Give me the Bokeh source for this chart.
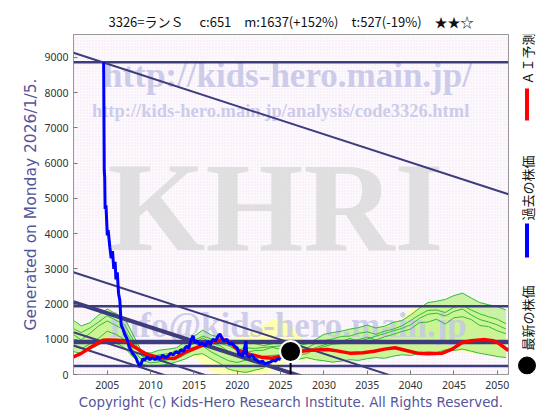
from math import pi
from bokeh.plotting import figure
from bokeh.models import Range1d, FixedTicker
from bokeh.layouts import row
from bokeh.embed import file_html
from bokeh.resources import INLINE
from bokeh.core.properties import value

# ---------------- data ----------------
title_text = "3326=ランＳ　 c:651　m:1637(+152%)　t:527(-19%)　★★☆"
y_label = "Generated on Monday 2026/1/5."
copyright_text = "Copyright (c) Kids-Hero Research Institute. All Rights Reserved."
legend_labels = ["ＡＩ予測", "過去の株価", "最新の株価"]

x_ticks = [2005, 2010, 2015, 2020, 2025, 2030, 2035, 2040, 2045, 2050]
y_ticks = [0, 1000, 2000, 3000, 4000, 5000, 6000, 7000, 8000, 9000]

# past price (blue)
blue_years = [2004.58, 2004.62, 2004.65, 2004.70, 2004.75, 2004.85, 2005.00, 2005.10, 2005.30, 2005.45,
              2005.60, 2005.75, 2005.90, 2006.00, 2006.15, 2006.30, 2006.45, 2006.60, 2006.80, 2007.00,
              2007.30, 2007.50, 2007.70, 2007.90, 2008.10, 2008.30, 2008.50, 2008.70, 2008.90, 2009.10,
              2009.30, 2009.60, 2009.90, 2010.20, 2010.50, 2010.80, 2011.10, 2011.40, 2011.70, 2012.00,
              2012.30, 2012.60, 2012.90, 2013.20, 2013.50, 2013.80, 2014.10, 2014.40, 2014.70, 2014.90,
              2015.10, 2015.40, 2015.70, 2016.00, 2016.30, 2016.60, 2016.90, 2017.20, 2017.50, 2017.80,
              2018.00, 2018.20, 2018.50, 2018.80, 2019.10, 2019.40, 2019.70, 2020.00, 2020.20, 2020.40,
              2020.60, 2020.80, 2021.00, 2021.10, 2021.40, 2021.70, 2022.00, 2022.30, 2022.60, 2022.90,
              2023.20, 2023.50, 2023.80, 2024.10, 2024.40, 2024.70, 2025.00]
blue_values = [8860, 7000, 5800, 5600, 4700, 4800, 3950, 4100, 3600, 3300,
               3500, 3000, 3200, 2700, 2900, 2300, 2100, 1400, 1300, 1150,
               1000, 800, 700, 600, 550, 480, 350, 250, 300, 450,
               400, 500, 420, 480, 420, 500, 450, 550, 480, 520,
               600, 550, 650, 600, 700, 650, 800, 750, 1000, 1100,
               900, 950, 850, 900, 800, 950, 850, 1000, 950, 1100,
               1150, 1050, 950, 1000, 850, 900, 800, 750, 550, 600,
               500, 700, 950, 550, 500, 550, 450, 400, 350, 380,
               300, 330, 350, 400, 380, 450, 420]

# AI prediction (red)
red_years = [2001.1, 2002.0, 2003.0, 2004.0, 2004.5, 2005.0, 2006.0, 2007.0, 2007.5, 2008.0,
             2009.0, 2009.6, 2011.2, 2012.7, 2014.2, 2016.2, 2017.7, 2018.5, 2019.0, 2020.0,
             2021.0, 2022.0, 2023.0, 2024.0, 2025.0, 2026.0, 2027.3, 2028.5, 2030.4, 2031.5,
             2033.1, 2034.5, 2035.8, 2037.0, 2038.2, 2039.5, 2040.9, 2042.0, 2043.6, 2044.8,
             2045.9, 2047.0, 2048.6, 2049.5, 2050.1, 2051.3]
red_values = [500, 600, 760, 900, 970, 980, 970, 960, 900, 800,
              650, 570, 470, 455, 660, 850, 970, 980, 940, 710,
              600, 540, 480, 460, 520, 600, 660, 690, 710, 670,
              600, 620, 660, 720, 760, 680, 600, 590, 600, 720,
              900, 960, 990, 960, 900, 680]

latest_year = 2026.15
latest_price = 651

# simulated paths (green) and band (yellow), yearly
sim_years = list(range(2001, 2052))
sim1 = [1550, 1380, 1470, 1690, 1860, 1720, 1600, 1120, 640, 610, 690, 720, 760, 930, 1080, 1260, 1120,
        1050, 920, 870, 930, 880, 820, 870, 950, 830, 820, 870, 990, 1140, 1190, 1230, 1290, 1330, 1400,
        1320, 1370, 1480, 1530, 1690, 1880, 2040, 2080, 2130, 2240, 2310, 2170, 2040, 1980, 1930, 1830]
sim2 = [1150, 980, 1170, 1380, 1520, 1390, 1260, 880, 520, 430, 520, 540, 630, 760, 880, 1040, 890,
        820, 650, 560, 620, 680, 690, 770, 720, 640, 710, 740, 880, 960, 1010, 1080, 1090, 1170, 1210,
        1140, 1230, 1290, 1380, 1530, 1690, 1820, 1830, 1760, 1910, 1960, 1830, 1720, 1640, 1570, 1440]
sim3 = [820, 730, 870, 1030, 1230, 1140, 990, 690, 410, 330, 360, 420, 440, 570, 690, 810, 640,
        510, 390, 340, 410, 440, 520, 540, 560, 490, 560, 590, 720, 790, 860, 880, 960, 990, 1060,
        980, 1070, 1140, 1220, 1290, 1470, 1490, 1570, 1430, 1610, 1640, 1560, 1390, 1360, 1240, 1160]
sim4 = [660, 590, 720, 840, 960, 890, 760, 490, 290, 240, 260, 290, 360, 440, 560, 590, 440,
        310, 150, 90, 60, 120, 180, 390, 460, 390, 430, 480, 420, 390, 350, 380, 420, 400, 450,
        480, 460, 520, 560, 540, 600, 650, 620, 700, 680, 720, 660, 600, 560, 510, 480]
sim5 = [1310, 1190, 1320, 1490, 1670, 1540, 1410, 980, 560, 490, 560, 590, 670, 790, 960, 1090, 1010,
        890, 810, 690, 760, 740, 770, 790, 810, 690, 610, 660, 760, 840, 910, 940, 1020, 940, 1010,
        1090, 1160, 1240, 1310, 1410, 1590, 1710, 1740, 1660, 1790, 1860, 1690, 1560, 1490, 1410, 1290]
band_upper = [1300, 1300, 1400, 1500, 1600, 1550, 1400, 1000, 650, 600, 600, 650, 700, 850, 1000, 1100, 1050,
              950, 950, 1050, 1150, 1250, 1400, 1550, 1620, 1450, 1200, 950, 900, 1000, 1100, 1150, 1150, 1200,
              1250, 1300, 1350, 1450, 1600, 1850, 1950, 1950, 2000, 1900, 2000, 2050, 1950, 1800, 1700, 1600, 1450]
band_lower = [700, 700, 750, 850, 900, 850, 700, 450, 300, 300, 300, 350, 400, 450, 500, 300, 100,
              0, 0, 0, 0, 0, 0, 100, 250, 350, 400, 400, 400, 400, 400, 450, 450, 500,
              500, 500, 550, 550, 600, 600, 650, 650, 600, 650, 700, 650, 600, 600, 550, 500, 450]

# support / resistance lines
level_values = [8860, 1940, 920, 240]
level_widths = [2.5, 2.5, 4.5, 2.5]
channel_start_year = 2001.1
channel_end_year = 2051.3
channel_start_values = [9130, 2900, 2050, 1200, 824]
channel_widths = [2, 2, 4, 2, 2]
channel_slope = -80.0  # price per year

# ---------------- layout constants ----------------
W, H = 560, 420
TOP, BOTTOM = 34, 46
LEFT_W = 40          # left column holding the rotated y label
MAIN_W = 513 - LEFT_W
LW = W - 513         # right legend column
FH = H - TOP - BOTTOM
NAVY = "#3d3d7d"
x0, x1 = 2001.1, 2051.3
y_top = 9650

# ---------------- main figure ----------------
p = figure(width=MAIN_W, height=H, x_range=Range1d(x0, x1), y_range=Range1d(0, y_top),
           output_backend="svg", toolbar_location=None,
           min_border_left=73 - LEFT_W, min_border_right=5, min_border_top=TOP, min_border_bottom=BOTTOM)
p.background_fill_color = "#fdfafd"
p.border_fill_color = "white"
p.outline_line_color = "#777777"

p.title.text = title_text
p.title.align = "center"
p.title.text_font = "Noto Sans CJK JP"
p.title.text_font_size = "13px"
p.title.text_font_style = "normal"
p.title.text_color = "#111111"
p.title.standoff = 8

# stipple background
p.quad(left=[x0], right=[x1], bottom=[0], top=[y_top], fill_color="#fdfafd", line_color=None,
       hatch_pattern="dot", hatch_color="#e0a0e0", hatch_alpha=0.3, hatch_scale=3)

xax = p.below[0]
yax = p.left[0]
xax.ticker = FixedTicker(ticks=x_ticks)
yax.ticker = FixedTicker(ticks=y_ticks)
for ax in (xax, yax):
    ax.major_label_text_font = "Noto Sans"
    ax.major_label_text_font_size = "10.5px"
    ax.major_label_text_color = "#333333"
    ax.axis_line_color = None
    ax.major_tick_in = 4
    ax.major_tick_out = 0
    ax.major_tick_line_color = "#777777"
    ax.minor_tick_line_color = None
    ax.axis_label_text_font = "DejaVu Sans"
    ax.axis_label_text_font_style = "normal"
    ax.axis_label_text_color = "#55559a"
xax.major_label_standoff = 6
yax.major_label_standoff = 5
xax.axis_label = copyright_text
xax.axis_label_text_font_size = "13.4px"
xax.axis_label_standoff = 3
p.grid.grid_line_color = "#d0d0d0"
p.grid.grid_line_width = 1

# yellow band
p.varea(x=sim_years, y1=band_lower, y2=band_upper, fill_color="#ffffaa", fill_alpha=0.9)
# green band (envelope of the simulated paths)
sims = [sim1, sim2, sim3, sim4, sim5]
g_low = [min(v) for v in zip(*sims)]
g_high = [max(v) for v in zip(*sims)]
p.varea(x=sim_years, y1=g_low, y2=g_high, fill_color="#b8f08c", fill_alpha=0.75)

# watermarks
wm = "#c6c6e8"
p.text(x=[2025.8], y=[8473], text=["http://kids-hero.main.jp/"], text_font=value("Liberation Serif"),
       text_font_style="bold", text_font_size="35px", text_color=wm, text_align="center",
       text_baseline="middle", text_alpha=0.9)
p.text(x=[2025.0], y=[7482], text=["http://kids-hero.main.jp/analysis/code3326.html"],
       text_font=value("Liberation Serif"), text_font_style="bold", text_font_size="18.5px",
       text_color=wm, text_align="center", text_baseline="middle", text_alpha=0.9)
p.text(x=[2024.4], y=[4745], text=["KHRI"], text_font=value("Liberation Serif"),
       text_font_style="bold", text_font_size="126px", text_color="#d2d2d2", text_align="center",
       text_baseline="middle", text_alpha=0.65)
p.text(x=[2025.9], y=[1390], text=["info@kids-hero.main.jp"], text_font=value("Liberation Serif"),
       text_font_style="bold", text_font_size="35px", text_color=wm, text_align="center",
       text_baseline="middle", text_alpha=0.85)

for s in sims:
    p.line(sim_years, s, line_color="#33bb33", line_width=1)

# level & channel lines
for v, w in zip(level_values, level_widths):
    p.segment(x0=[x0], y0=[v], x1=[x1], y1=[v], line_color=NAVY, line_width=w)
for v, w in zip(channel_start_values, channel_widths):
    p.segment(x0=[channel_start_year], y0=[v], x1=[channel_end_year],
              y1=[v + channel_slope * (channel_end_year - channel_start_year)],
              line_color=NAVY, line_width=w)

p.line(red_years, red_values, line_color="#ff0000", line_width=3.5)
p.line(blue_years, blue_values, line_color="#0000ff", line_width=3)
p.segment(x0=[latest_year], y0=[0], x1=[latest_year], y1=[latest_price], line_color="black", line_width=2)
p.scatter(x=[latest_year], y=[latest_price], size=21, fill_color="black", line_color="white", line_width=2)

# ---------------- left column: y label (frame aligned with main frame) ----------------
lfig = figure(width=LEFT_W, height=H, x_range=Range1d(0, LEFT_W), y_range=Range1d(0, FH),
              output_backend="svg", toolbar_location=None, x_axis_type=None, y_axis_type=None,
              min_border_left=0, min_border_right=0, min_border_top=TOP, min_border_bottom=BOTTOM)
lfig.outline_line_color = None
lfig.grid.visible = False
lfig.background_fill_color = "white"
lfig.text(x=[30], y=[FH / 2], text=[y_label], angle=pi / 2, text_font=value("DejaVu Sans"),
          text_font_size="15.5px", text_color="#55559a", text_align="center", text_baseline="middle")

# ---------------- legend column (frame aligned with main frame: rows 34..374) ----------------
lf = figure(width=LW, height=H, x_range=Range1d(0, LW), y_range=Range1d(0, FH),
            output_backend="svg", toolbar_location=None, x_axis_type=None, y_axis_type=None,
            min_border_left=0, min_border_right=0, min_border_top=TOP, min_border_bottom=BOTTOM)
lf.outline_line_color = None
lf.grid.visible = False
lf.background_fill_color = "white"
bottom_px = H - BOTTOM
lx = 13.5
text_y = [bottom_px - 58, bottom_px - 187.5, bottom_px - 317.5]
lf.text(x=[lx] * 3, y=text_y, text=legend_labels, angle=pi / 2, text_font=value("Noto Sans CJK JP"),
        text_font_size="13px", text_color="#111111", text_align="center", text_baseline="middle")
lf.segment(x0=[lx], y0=[bottom_px - 88], x1=[lx], y1=[bottom_px - 120], line_color="#ff0000", line_width=4)
lf.segment(x0=[lx], y0=[bottom_px - 223], x1=[lx], y1=[bottom_px - 257], line_color="#0000ff", line_width=4)
lf.scatter(x=[lx], y=[bottom_px - 365], size=17, fill_color="black", line_color="black")

layout = row(lfig, p, lf, spacing=0)
open("out.html", "w").write(file_html(layout, INLINE))
